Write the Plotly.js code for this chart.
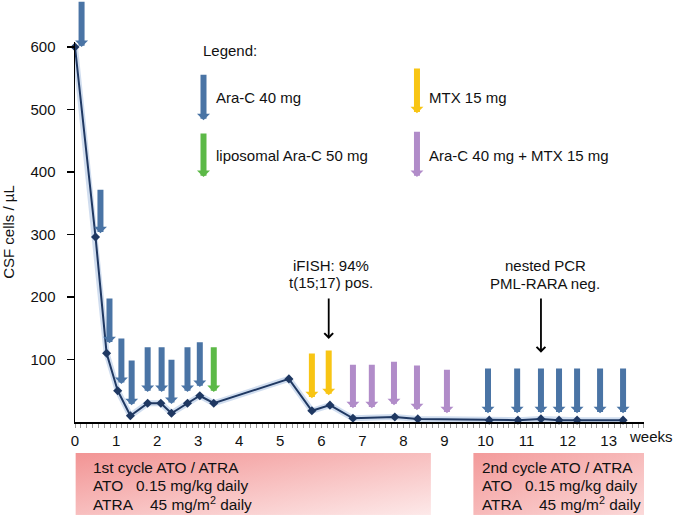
<!DOCTYPE html>
<html><head><meta charset="utf-8">
<script src="https://cdn.plot.ly/plotly-3.0.1.min.js"></script>
<style>html,body{margin:0;padding:0;background:#fff}</style>
</head><body><div id="chart" style="width:675px;height:517px"></div>
<script>
// CSF cell counts over time
const weeks    = [0, 0.5, 0.77, 1.04, 1.35, 1.77, 2.09, 2.35, 2.74, 3.04, 3.38, 5.21, 5.77, 6.21, 6.77, 7.79, 8.35, 10.09, 10.79, 11.35, 11.79, 12.23, 13.35];
const csfCells = [600, 296, 110, 50, 10, 30, 30, 14, 30, 42, 30, 69, 18, 27, 6, 8, 5, 3, 3, 5, 3, 3, 3];

// Intrathecal treatments (arrow x = week, top = tail value, tip = head value)
const araC_x   = [0.16, 0.62, 0.84, 1.13, 1.38, 1.77, 2.11, 2.35, 2.74, 3.04, 10.06, 10.77, 11.35, 11.79, 12.23, 12.79, 13.35];
const araC_top = [675, 374, 200, 136, 101, 122, 122, 102, 122, 130, 88, 88, 88, 88, 88, 88, 88];
const araC_tip = [600, 302, 126, 61, 27, 48, 48, 29, 48, 56, 14, 14, 14, 14, 14, 14, 14];
const lipo_x   = [3.38];
const lipo_top = [122];
const lipo_tip = [48];
const mtx_x    = [5.77, 6.18];
const mtx_top  = [112, 117];
const mtx_tip  = [38, 43];
const combo_x   = [6.77, 7.23, 7.77, 8.33, 9.06];
const combo_top = [94, 94, 99, 93, 86];
const combo_tip = [22, 22, 27, 19, 14];

// Diagnostics markers
const testWeeks = [6.18, 11.35];
const testTop   = [200, 200];
const testTip   = [133, 111];
const testLine1 = ["iFISH: 94%", "nested PCR"];
const testLine2 = ["t(15;17) pos.", "PML-RARA neg."];

// Treatment cycles (weeks)
const cycleStart = [0.01, 9.7];
const cycleEnd   = [8.67, 13.87];
const cycleTitle = ["1st cycle ATO / ATRA", "2nd cycle ATO / ATRA"];
const cycleAto   = "ATO\u00a0\u00a0\u00a00.15 mg/kg daily";
const cycleAtra  = "ATRA\u00a0\u00a0\u00a0\u00a045 mg/m<sup>2</sup> daily";

const tickWeeks = [0,1,2,3,4,5,6,7,8,9,10,11,12,13];
const tickCells = [100,200,300,400,500,600];

const BLUE = '#4a74a5', GREEN = '#5cb947', YELLOW = '#f8c514', PURPLE = '#b18cc9', NAVY = '#1f3862';
const FONT = '"Liberation Sans", Arial, sans-serif';

const traces = [
  {x: weeks, y: csfCells, mode: 'lines', line: {color: 'rgba(150,180,220,0.45)', width: 6}, hoverinfo: 'skip', showlegend: false},
  {x: weeks, y: csfCells, mode: 'lines+markers', line: {color: NAVY, width: 2},
   marker: {symbol: 'diamond', size: 7, color: NAVY}, showlegend: false, cliponaxis: false}
];

const ann = [];
function arrow(x, top, tip, color) {
  ann.push({x: x, y: tip, ax: x, ay: top, xref: 'x', yref: 'y', axref: 'x', ayref: 'y',
    text: '', showarrow: true, arrowhead: 1, arrowsize: 0.36, arrowwidth: 6, arrowcolor: color, standoff: 0});
}
araC_x.forEach((x, i) => arrow(x, araC_top[i], araC_tip[i], BLUE));
lipo_x.forEach((x, i) => arrow(x, lipo_top[i], lipo_tip[i], GREEN));
mtx_x.forEach((x, i) => arrow(x, mtx_top[i], mtx_tip[i], YELLOW));
combo_x.forEach((x, i) => arrow(x, combo_top[i], combo_tip[i], PURPLE));

// legend
arrow(3.13, 558, 483, BLUE);
arrow(3.13, 464, 392, GREEN);
arrow(8.33, 568, 494, YELLOW);
arrow(8.33, 467, 392, PURPLE);
function label(x, y, t, xanchor, xref, yref, size) {
  ann.push({x: x, y: y, xref: xref || 'x', yref: yref || 'y', text: t, showarrow: false,
    xanchor: xanchor || 'left', yanchor: 'middle', font: {family: FONT, size: size || 15, color: '#111'}});
}
label(3.07, 594, 'Legend:');
label(3.38, 520, 'Ara-C 40 mg');
label(3.38, 426, 'liposomal Ara-C 50 mg');
label(8.58, 520, 'MTX 15 mg');
label(8.58, 426, 'Ara-C 40 mg + MTX 15 mg');

// diagnostics
testWeeks.forEach((x, i) => {
  ann.push({x: x, y: testTip[i], ax: x, ay: testTop[i], xref: 'x', yref: 'y', axref: 'x', ayref: 'y',
    text: '', showarrow: true, arrowhead: 4, arrowsize: 0.95, arrowwidth: 1.8, arrowcolor: '#000', standoff: 0});
});
label(6.23, 250, testLine1[0], 'center');
label(6.23, 224, testLine2[0], 'center');
label(11.46, 251, testLine1[1], 'center');
label(11.46, 222, testLine2[1], 'center');

// weeks label
label(1.012, -0.037, 'weeks', 'center', 'paper', 'paper');

// cycles
const images = [];
const grads = [['#f29494', '#fde9e9'], ['#f39a9a', '#fbd9d9']];
cycleStart.forEach((s, i) => {
  const svg = "<svg xmlns='http://www.w3.org/2000/svg' viewBox='0 0 100 100' preserveAspectRatio='none' width='100' height='100'>" +
    "<defs><linearGradient id='g' x1='0' y1='0' x2='1' y2='1'><stop offset='0' stop-color='" + grads[i][0] + "'/>" +
    "<stop offset='1' stop-color='" + grads[i][1] + "'/></linearGradient></defs>" +
    "<rect x='0' y='0' width='100' height='100' fill='url(#g)'/></svg>";
  images.push({source: 'data:image/svg+xml;charset=utf-8,' + encodeURIComponent(svg),
    xref: 'x', yref: 'paper', x: s, y: -0.0816, sizex: cycleEnd[i] - s, sizey: 0.163,
    sizing: 'stretch', xanchor: 'left', yanchor: 'top', layer: 'above'});
  const tx = s + 0.37 - (i === 1 ? 0.2 : 0);
  label(tx, -0.120, cycleTitle[i], 'left', 'x', 'paper', 15.4);
  label(tx, -0.167, cycleAto, 'left', 'x', 'paper', 15.4);
  label(tx, -0.214, cycleAtra, 'left', 'x', 'paper', 15.4);
});

const layout = {
  width: 675, height: 517,
  margin: {l: 75, r: 31, t: 42, b: 95},
  paper_bgcolor: '#fff', plot_bgcolor: '#fff',
  font: {family: FONT, size: 15, color: '#111'},
  showlegend: false,
  xaxis: {range: [0, 13.86], showgrid: false, zeroline: false, showline: true, linecolor: '#000', linewidth: 2,
    tickvals: tickWeeks, ticktext: tickWeeks.map(String), ticks: 'outside', ticklen: 4, tickcolor: '#999', tickwidth: 1,
    minor: {dtick: 1/7, tick0: 0, ticks: 'outside', ticklen: 4, tickcolor: '#999', tickwidth: 1},
    tickfont: {family: FONT, size: 15, color: '#111'}},
  yaxis: {range: [0, 608], showgrid: false, zeroline: false, showline: true, linecolor: '#000', linewidth: 1.5,
    tickvals: tickCells, ticks: 'outside', ticklen: 7, tickcolor: '#000', tickwidth: 1.5, ticklabelstandoff: 8,
    tickfont: {family: FONT, size: 15, color: '#111'},
    title: {text: 'CSF cells / µL', standoff: 12, font: {family: FONT, size: 15, color: '#111'}}},
  annotations: ann,
  images: images
};
Plotly.newPlot('chart', traces, layout, {staticPlot: true});
</script></body></html>
